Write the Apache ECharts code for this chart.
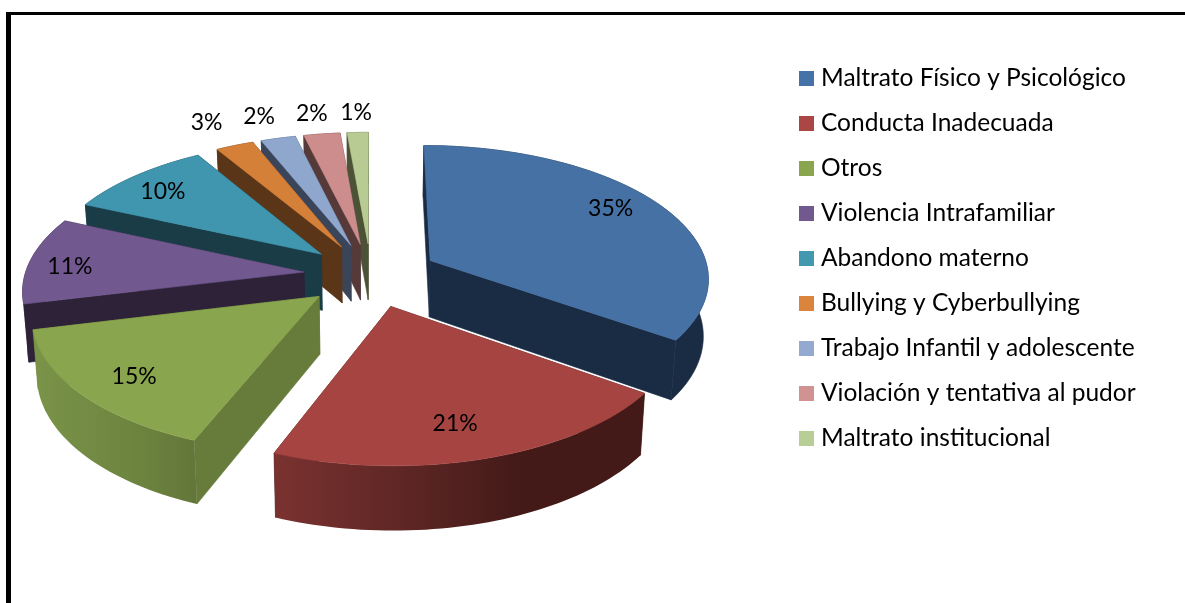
<!DOCTYPE html>
<html><head><meta charset="utf-8">
<style>html,body{margin:0;padding:0;background:#fff}#c{width:1185px;height:603px}</style>
<script src="https://cdn.jsdelivr.net/npm/echarts@6/dist/echarts.min.js"></script>
</head><body><div id="c"></div>
<script>
const categories = ['Maltrato Físico y Psicológico','Conducta Inadecuada','Otros','Violencia Intrafamiliar','Abandono materno','Bullying y Cyberbullying','Trabajo Infantil y adolescente','Violación y tentativa al pudor','Maltrato institucional'];
const values = [34.8,21.2,15.2,10.5,9.7,2.5,2.3,2.4,1.4];
const percentLabels = ['35%','21%','15%','11%','10%','3%','2%','2%','1%'];

// styling, kept apart from the data
const topColors  = ['#4571a5','#a64442','#89a54d','#71588f','#4096ae','#d58039','#8fa7cd','#cd8d8c','#b7cb93'];
const legendColors = ['#4572a7','#aa4643','#89a54e','#71588f','#4198af','#db843d','#93a9cf','#d19392','#b9cd96'];
const darkColors = ['#1a2c44','#471c1a','#677c3a','#2e2238','#1a3c47','#5a3518','#3a455a','#563a3a','#4b5236'];
const wallStops  = {1:['#7a3230','#5f2725','#431a18','#431a18'],2:['#7a9448','#738b44','#6c833f','#63763a']};
const drawOrder  = [8,7,6,5,4,3,0,2,1];
const labelR     = [.73,.79,.80,.84,.83,1.30,1.30,1.30,1.30];
const labelNudge = [[11,-10],[-9,0],[2,3],[-4,4],[-2,3],[0,4],[0,6],[0,8],[1,9]];
const view = {cx:371,cy:275,rx:279,ry:132,k:.12,explode:.242,depth:57,shrink:.015};

const total = values.reduce((a,b)=>a+b,0);
function angles(i){let a=0;for(let j=0;j<i;j++)a+=values[j];return [a/total*2*Math.PI,(a+values[i])/total*2*Math.PI];}
function project(u,v,d){
  const s=1/(1-view.k*v);
  const X=view.rx*u*s,Y=view.ry*v*s;
  return [view.cx+X*(1-view.shrink*d),view.cy+Y+view.depth*Math.pow(s,.8)*d];
}
function poly(points,fill,z2){
  return {type:'polygon',z2:z2,shape:{points:points},style:{fill:fill,stroke:typeof fill==='string'?fill:'rgba(0,0,0,0)',lineWidth:.6}};
}
function slice(i){
  const [a0,a1]=angles(i),mid=(a0+a1)/2;
  const ou=Math.sin(mid)*view.explode,ov=-Math.cos(mid)*view.explode;
  const n=Math.max(6,Math.round((a1-a0)*40));
  const rim=[];
  for(let j=0;j<=n;j++){const t=a0+(a1-a0)*j/n;rim.push([ou+Math.sin(t),ov-Math.cos(t)]);}
  const P=(p,d)=>project(p[0],p[1],d);
  const apex=[ou,ov];
  const dark=darkColors[i];
  let wallFill=dark;
  if(wallStops[i]){const st=wallStops[i];wallFill=new echarts.graphic.LinearGradient(0,0,1,0,st.map((c,x)=>({offset:x/(st.length-1),color:c})));}
  const faces=[
    {v:(apex[1]+rim[0][1])/2,pts:[P(apex,0),P(rim[0],0),P(rim[0],1),P(apex,1)],fill:dark},
    {v:(apex[1]+rim[n][1])/2,pts:[P(apex,0),P(rim[n],0),P(rim[n],1),P(apex,1)],fill:dark},
    {v:rim[n>>1][1],pts:rim.map(p=>P(p,0)).concat(rim.slice().reverse().map(p=>P(p,1))),fill:wallFill}
  ].sort((a,b)=>a.v-b.v);
  const children=faces.map((f,x)=>poly(f.pts,f.fill,x));
  children.push(poly([P(apex,0)].concat(rim.map(p=>P(p,0))),topColors[i],5));
  const lr=labelR[i]+view.explode;
  const lp=project(Math.sin(mid)*lr,-Math.cos(mid)*lr,0);
  children.push({type:'text',z2:9,style:{x:lp[0]+labelNudge[i][0],y:lp[1]+labelNudge[i][1],text:percentLabels[i],fill:'#000',font:'23px Lato',align:'center',verticalAlign:'middle'}});
  return {type:'group',children:children};
}
const series=drawOrder.map((i,order)=>({
  type:'custom',name:categories[i],coordinateSystem:'none',z:2+order,silent:true,
  itemStyle:{color:legendColors[i]},data:[values[i]],
  renderItem:()=>slice(i)
}));
const chart=echarts.init(document.getElementById('c'),null,{renderer:'canvas'});
chart.setOption({
  animation:false,backgroundColor:'#fff',
  legend:{data:categories,orient:'vertical',left:799,top:66,padding:0,icon:'rect',itemWidth:15,itemHeight:15,itemGap:20,selectedMode:false,
    textStyle:{fontFamily:'Lato',fontSize:24.5,color:'#000',padding:[0,0,0,2],lineHeight:23.1}},
  graphic:[
    {type:'rect',shape:{x:6,y:12,width:1179,height:3},style:{fill:'#000'}},
    {type:'rect',shape:{x:6,y:12,width:5,height:591},style:{fill:'#000'}}
  ],
  series:series
});
</script></body></html>
